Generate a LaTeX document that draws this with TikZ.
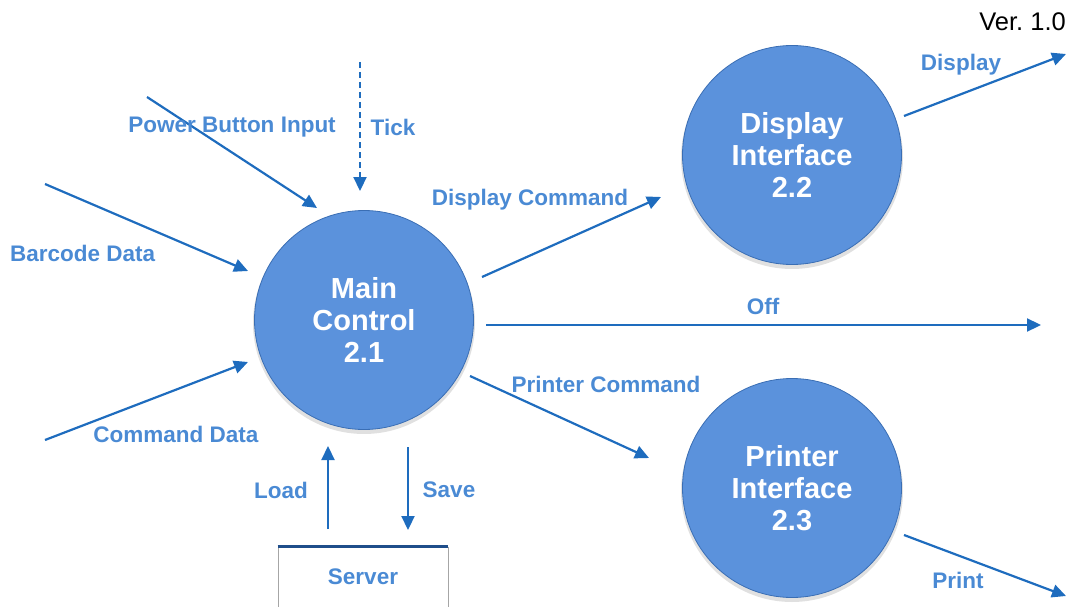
\documentclass[tikz,border=0pt]{standalone}
\usepackage{fontspec}
\setmainfont{Liberation Sans}
\usetikzlibrary{arrows.meta}
\definecolor{circfill}{RGB}{91,146,220}
\definecolor{circline}{RGB}{58,110,180}
\definecolor{arrowc}{RGB}{30,108,190}
\definecolor{labelc}{RGB}{74,138,212}
\definecolor{serverline}{RGB}{31,78,138}
\tikzset{
  proc/.style={circle, fill=circfill, draw=circline, line width=0.8pt, minimum size=219pt, inner sep=0pt,
    text=white, font=\fontsize{29}{32}\selectfont\bfseries, align=center},
  flow/.style={draw=arrowc, line width=2.2pt, -{Triangle[length=14pt,width=13pt]}},
  lbl/.style={text=labelc, font=\fontsize{22.5}{26}\selectfont\bfseries, inner sep=0pt},
}
\begin{document}
\begin{tikzpicture}[x=1pt,y=-1pt]
\useasboundingbox (0,0) rectangle (1078,607);
% shadows
\fill[black,opacity=0.12] (364,323) circle (111);
\fill[black,opacity=0.12] (792,158) circle (111);
\fill[black,opacity=0.12] (792,491) circle (111);
% processes
\node[proc] (main) at (364,320) {Main\\Control\\2.1};
\node[proc] (disp) at (792,155) {Display\\Interface\\2.2};
\node[proc] (prn) at (792,488) {Printer\\Interface\\2.3};
% server
\node[draw=gray!70, line width=0.6pt, minimum width=170pt, minimum height=60pt, inner sep=0pt,
  text=labelc, font=\fontsize{22.5}{26}\selectfont\bfseries] (server) at (363,577) {Server};
\draw[serverline, line width=3pt] (server.north west) -- (server.north east);
% coordinates
\coordinate (pbA) at (147,97);  \coordinate (pbB) at (317,208);
\coordinate (tkA) at (360,62);  \coordinate (tkB) at (360,191);
\coordinate (bcA) at (45,184);  \coordinate (bcB) at (248,271);
\coordinate (cdA) at (45,440);  \coordinate (cdB) at (248,362);
\coordinate (dcA) at (482,277); \coordinate (dcB) at (661,197);
\coordinate (ofA) at (486,325); \coordinate (ofB) at (1041,325);
\coordinate (pcA) at (470,376); \coordinate (pcB) at (649,458);
\coordinate (ldA) at (328,529); \coordinate (ldB) at (328,446);
\coordinate (svA) at (408,447); \coordinate (svB) at (408,530);
\coordinate (dsA) at (904,116); \coordinate (dsB) at (1066,54);
\coordinate (prA) at (904,535); \coordinate (prB) at (1066,596);
% flows
\draw[flow] (pbA) -- (pbB);
\draw[flow, dash pattern=on 6pt off 4pt] (tkA) -- (tkB);
\draw[flow] (bcA) -- (bcB);
\draw[flow] (cdA) -- (cdB);
\draw[flow] (dcA) -- (dcB);
\draw[flow] (ofA) -- (ofB);
\draw[flow] (pcA) -- (pcB);
\draw[flow] (ldA) -- (ldB);
\draw[flow] (svA) -- (svB);
\draw[flow] (dsA) -- (dsB);
\draw[flow] (prA) -- (prB);
% labels
\node[lbl] (l1) at (232,127) {Power Button Input};
\node[lbl] (l2) at (393,127) {Tick};
\node[lbl, anchor=west] (l3) at (10,253) {Barcode Data};
\node[lbl] (l4) at (176,434) {Command Data};
\node[lbl] (l5) at (530,200) {Display Command};
\node[lbl] (l6) at (763,306) {Off};
\node[lbl] (l7) at (606,384) {Printer Command};
\node[lbl] (l8) at (281,490) {Load};
\node[lbl] (l9) at (449,490) {Save};
\node[lbl] (l10) at (961,65) {Display};
\node[lbl] (l11) at (958,580) {Print};
\node[font=\fontsize{25.5}{30}\selectfont, anchor=east, inner sep=0pt] (ver) at (1066,22) {Ver.~1.0};
\end{tikzpicture}
\end{document}
